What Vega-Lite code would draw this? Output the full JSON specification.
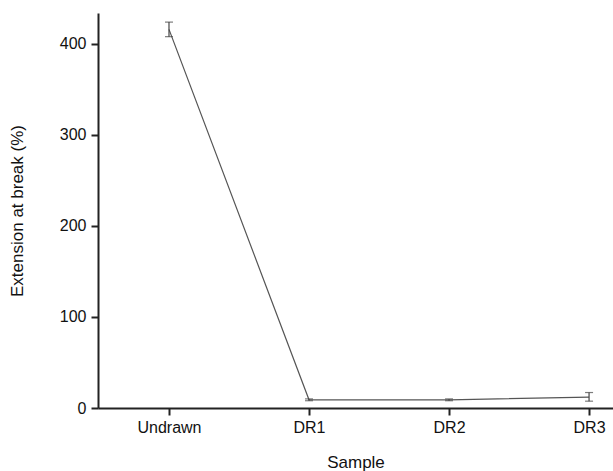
{
  "$schema": "https://vega.github.io/schema/vega-lite/v6.json",
  "width": 515,
  "height": 395,
  "padding": {"left": 98, "top": 13, "right": 0, "bottom": 63},
  "autosize": {"type": "none"},
  "background": "white",
  "config": {
    "view": {"stroke": null},
    "font": "Liberation Sans",
    "axis": {"grid": false, "domainColor": "#222", "domainWidth": 2, "tickColor": "#222", "tickWidth": 2, "tickSize": 7, "labelFont": "Liberation Sans", "labelFontSize": 16, "labelColor": "#111", "titleFont": "Liberation Sans", "titleFontSize": 17, "titleFontWeight": "normal", "titleColor": "#111"}
  },
  "data": {"values": [
    {"sample": "Undrawn", "idx": 1, "mean": 416, "lo": 408, "hi": 424},
    {"sample": "DR1", "idx": 2, "mean": 9, "lo": 8, "hi": 10},
    {"sample": "DR2", "idx": 3, "mean": 9, "lo": 8, "hi": 10},
    {"sample": "DR3", "idx": 4, "mean": 12, "lo": 7.5, "hi": 17}
  ]},
  "encoding": {
    "x": {"field": "idx", "type": "quantitative",
      "scale": {"domain": [0.493, 4.171], "nice": false, "zero": false},
      "axis": {"title": "Sample", "values": [1, 2, 3, 4], "labelExpr": "['','Undrawn','DR1','DR2','DR3'][datum.value]", "labelPadding": 4, "titlePadding": 19}}
  },
  "layer": [
    {
      "mark": {"type": "line", "color": "#555", "strokeWidth": 1.2},
      "encoding": {
        "y": {"field": "mean", "type": "quantitative",
          "scale": {"domain": [0, 434], "nice": false},
          "axis": {"title": "Extension at break (%)", "values": [0, 100, 200, 300, 400], "labelPadding": 5, "titlePadding": 33}}
      }
    },
    {
      "mark": {"type": "errorbar", "ticks": {"size": 8, "color": "#444", "thickness": 1.2}, "rule": {"color": "#444", "strokeWidth": 1.2}},
      "encoding": {
        "y": {"field": "lo", "type": "quantitative", "title": "Extension at break (%)"},
        "y2": {"field": "hi"}
      }
    }
  ]
}
